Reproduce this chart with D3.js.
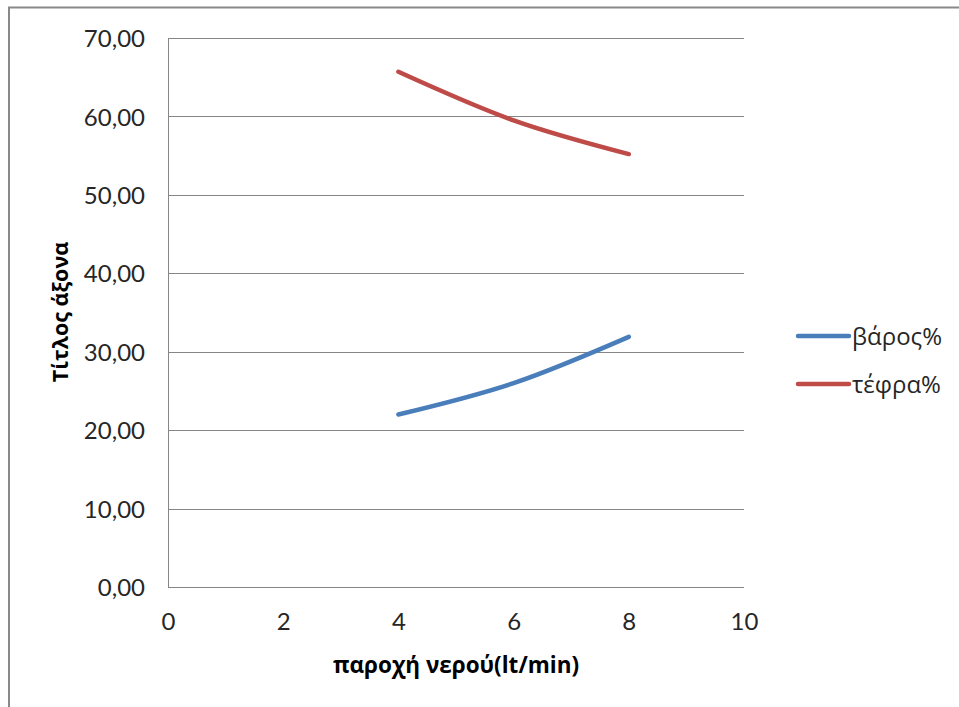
<!DOCTYPE html>
<html>
<head>
<meta charset="utf-8">
<script src="https://cdn.jsdelivr.net/npm/d3@7"></script>
<style>
  html, body { margin: 0; padding: 0; background: #fff; }
  svg { display: block; }
</style>
</head>
<body>
<svg id="chart" width="959" height="707"></svg>
<script>
// ---- data ----
const xValues = [4, 6, 8];
const seriesNames = ["βάρος%", "τέφρα%"];
const weightValues = [22.0, 26.0, 31.9];
const ashValues = [65.7, 59.5, 55.2];
const seriesColors = ["#4A7EBB", "#BE4B48"];
const xTicks = [0, 2, 4, 6, 8, 10];
const yTicks = [0, 10, 20, 30, 40, 50, 60, 70];
const xTitle = "παροχή νερού(lt/min)";
const yTitle = "Τίτλος άξονα";

const series = [
  { name: seriesNames[0], color: seriesColors[0], values: weightValues },
  { name: seriesNames[1], color: seriesColors[1], values: ashValues }
];

const svg = d3.select("#chart");
const W = 959, H = 707;
const plot = { left: 168, right: 744, top: 38, bottom: 587 };

svg.append("rect").attr("x", 0).attr("y", 0).attr("width", W).attr("height", H).attr("fill", "#fff");
// outer chart frame (extends beyond the visible window on right and bottom)
svg.append("rect")
  .attr("x", 9).attr("y", 7.5).attr("width", 980).attr("height", 740)
  .attr("fill", "none").attr("stroke", "#898989").attr("stroke-width", 2);

const x = d3.scaleLinear().domain([0, 10]).range([plot.left, plot.right]);
const y = d3.scaleLinear().domain([0, 70]).range([plot.bottom, plot.top]);

const numFmt = v => d3.format(".2f")(v).replace(".", ",");
const tickFont = "Lato, 'Open Sans', sans-serif";

// gridlines
const yAxis = d3.axisLeft(y).tickValues(yTicks).tickSize(-(plot.right - plot.left)).tickPadding(23).tickFormat(numFmt);
const gy = svg.append("g").attr("transform", `translate(${plot.left},0)`).call(yAxis);
gy.select(".domain").remove();
gy.selectAll(".tick line").attr("stroke", "#868686").attr("stroke-width", 1).attr("shape-rendering", "crispEdges");
gy.selectAll(".tick text").attr("font-family", tickFont).attr("font-size", 24).attr("fill", "#262626").attr("dy", "0.36em");

const xAxis = d3.axisBottom(x).tickValues(xTicks).tickSize(0).tickPadding(23).tickFormat(d3.format("d"));
const gx = svg.append("g").attr("transform", `translate(0,${plot.bottom})`).call(xAxis);
gx.select(".domain").remove();
gx.selectAll(".tick text").attr("font-family", tickFont).attr("font-size", 24).attr("fill", "#262626").attr("dy", "0.36em").attr("y", 34);

// axis lines
svg.append("line").attr("x1", plot.left).attr("x2", plot.left).attr("y1", plot.top).attr("y2", plot.bottom)
  .attr("stroke", "#868686").attr("stroke-width", 1).attr("shape-rendering", "crispEdges");
svg.append("line").attr("x1", plot.left).attr("x2", plot.right).attr("y1", plot.bottom).attr("y2", plot.bottom)
  .attr("stroke", "#868686").attr("stroke-width", 1).attr("shape-rendering", "crispEdges");

// lines
const line = d3.line().x((d, i) => x(xValues[i])).y(d => y(d)).curve(d3.curveCatmullRom.alpha(0));
series.forEach(s => {
  svg.append("path").datum(s.values).attr("d", line)
    .attr("fill", "none").attr("stroke", s.color).attr("stroke-width", 4.5)
    .attr("stroke-linecap", "round").attr("stroke-linejoin", "round");
});

// axis titles
svg.append("text").attr("x", (plot.left + plot.right) / 2).attr("y", 673)
  .attr("text-anchor", "middle").attr("font-family", "'Open Sans', sans-serif").attr("font-weight", "bold")
  .attr("font-size", 22.5).attr("fill", "#000").text(xTitle);
svg.append("text").attr("transform", "translate(68,312) rotate(-90)")
  .attr("text-anchor", "middle").attr("font-family", "'Open Sans', sans-serif").attr("font-weight", "bold")
  .attr("font-size", 21.5).attr("fill", "#000").text(yTitle);

// legend
const leg = svg.append("g");
series.forEach((s, i) => {
  const ly = 336 + i * 48;
  leg.append("line").attr("x1", 798).attr("x2", 849).attr("y1", ly).attr("y2", ly)
    .attr("stroke", s.color).attr("stroke-width", 4.5).attr("stroke-linecap", "round");
  leg.append("text").attr("x", 852).attr("y", ly).attr("dy", "0.36em")
    .attr("font-family", "'Open Sans', sans-serif").attr("font-size", 24).attr("fill", "#262626").text(s.name);
});
</script>
</body>
</html>
